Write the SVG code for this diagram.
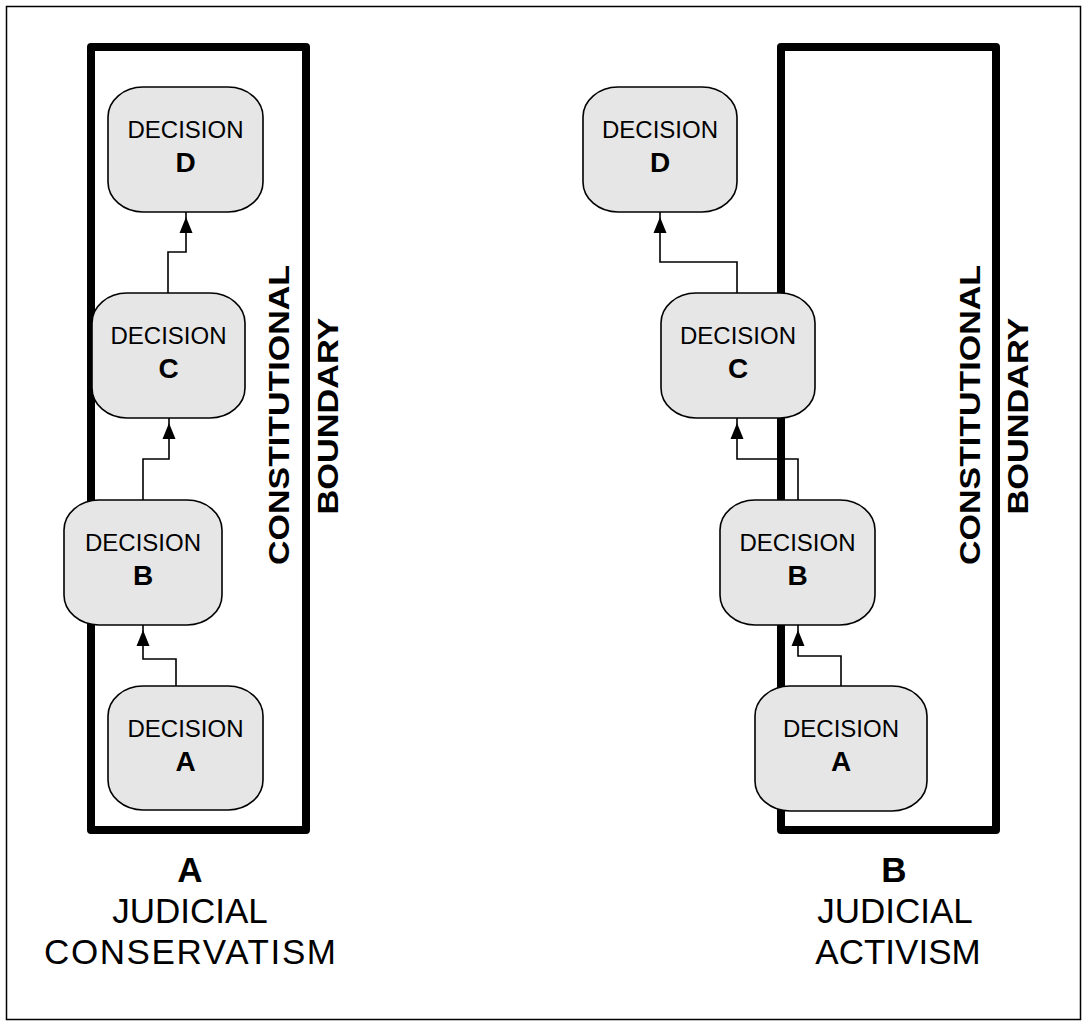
<svg xmlns="http://www.w3.org/2000/svg" width="1088" height="1026" viewBox="0 0 1088 1026">
<style>
.frame{fill:none;stroke:#000;stroke-width:1.5}
.bound{fill:none;stroke:#000;stroke-width:8;stroke-linejoin:round}
.node rect{fill:#e6e6e6;stroke:#000;stroke-width:1.6}
.conn{fill:none;stroke:#000;stroke-width:1.6}
.t{font-family:"Liberation Sans",Arial,sans-serif;fill:#000;text-anchor:middle}
.dec{font-size:24px}
.let{font-size:28px;font-weight:bold}
.vert{font-size:30px;font-weight:bold}
.cap{font-size:35px}
.capb{font-size:35px;font-weight:bold}
</style>
<defs>
<marker id="arr" markerUnits="userSpaceOnUse" viewBox="0 0 21 14" refX="21" refY="7" markerWidth="21" markerHeight="14" orient="auto" overflow="visible">
<path d="M0,0.5 L16,7 L0,13.5 z" fill="#000"/>
</marker>
</defs>
<rect width="1088" height="1026" fill="#fff"/>
<rect class="frame" x="6.5" y="6.5" width="1074" height="1013"/>

<g id="boundary-left">
<rect class="bound" x="91" y="47" width="215" height="783"/>
<text class="t vert" transform="translate(289,415) rotate(-90)" textLength="300" lengthAdjust="spacingAndGlyphs">CONSTITUTIONAL</text>
<text class="t vert" transform="translate(338,416) rotate(-90)" textLength="197" lengthAdjust="spacingAndGlyphs">BOUNDARY</text>
</g>
<g id="boundary-right">
<rect class="bound" x="781" y="47" width="215" height="783"/>
<text class="t vert" transform="translate(980,415) rotate(-90)" textLength="300" lengthAdjust="spacingAndGlyphs">CONSTITUTIONAL</text>
<text class="t vert" transform="translate(1028,416) rotate(-90)" textLength="197" lengthAdjust="spacingAndGlyphs">BOUNDARY</text>
</g>

<g id="connectors">
<path class="conn" marker-end="url(#arr)" d="M176,686 V659 H143 V625"/>
<path class="conn" marker-end="url(#arr)" d="M143,500 V459 H169 V418"/>
<path class="conn" marker-end="url(#arr)" d="M168,293 V252 H186 V212"/>
<path class="conn" marker-end="url(#arr)" d="M841,686 V656 H798 V625"/>
<path class="conn" marker-end="url(#arr)" d="M798,500 V459 H737 V418"/>
<path class="conn" marker-end="url(#arr)" d="M737,293 V262 H660 V212"/>
</g>

<g id="left-D" class="node"><rect x="108" y="87" width="155" height="125" rx="35" ry="30"/><text class="t dec" x="185.5" y="138">DECISION</text><text class="t let" x="185.5" y="172">D</text></g>
<g id="left-C" class="node"><rect x="92" y="293" width="153" height="125" rx="35" ry="30"/><text class="t dec" x="168.5" y="344">DECISION</text><text class="t let" x="168.5" y="378">C</text></g>
<g id="left-B" class="node"><rect x="64" y="500" width="158" height="125" rx="35" ry="30"/><text class="t dec" x="143" y="551">DECISION</text><text class="t let" x="143" y="585">B</text></g>
<g id="left-A" class="node"><rect x="108" y="686" width="155" height="124" rx="35" ry="30"/><text class="t dec" x="185.5" y="737">DECISION</text><text class="t let" x="185.5" y="771">A</text></g>

<g id="right-D" class="node"><rect x="583" y="87" width="154" height="125" rx="35" ry="30"/><text class="t dec" x="660" y="138">DECISION</text><text class="t let" x="660" y="172">D</text></g>
<g id="right-C" class="node"><rect x="661" y="293" width="154" height="125" rx="35" ry="30"/><text class="t dec" x="738" y="344">DECISION</text><text class="t let" x="738" y="378">C</text></g>
<g id="right-B" class="node"><rect x="720" y="500" width="155" height="125" rx="35" ry="30"/><text class="t dec" x="797.5" y="551">DECISION</text><text class="t let" x="797.5" y="585">B</text></g>
<g id="right-A" class="node"><rect x="755" y="686" width="172" height="125" rx="35" ry="30"/><text class="t dec" x="841" y="737">DECISION</text><text class="t let" x="841" y="771">A</text></g>

<g id="caption-left">
<text class="t capb" x="190" y="882">A</text>
<text class="t cap" x="190" y="923">JUDICIAL</text>
<text class="t cap" x="190" y="964" textLength="292">CONSERVATISM</text>
</g>
<g id="caption-right">
<text class="t capb" x="894" y="882">B</text>
<text class="t cap" x="895" y="923">JUDICIAL</text>
<text class="t cap" x="898" y="964">ACTIVISM</text>
</g>
</svg>
